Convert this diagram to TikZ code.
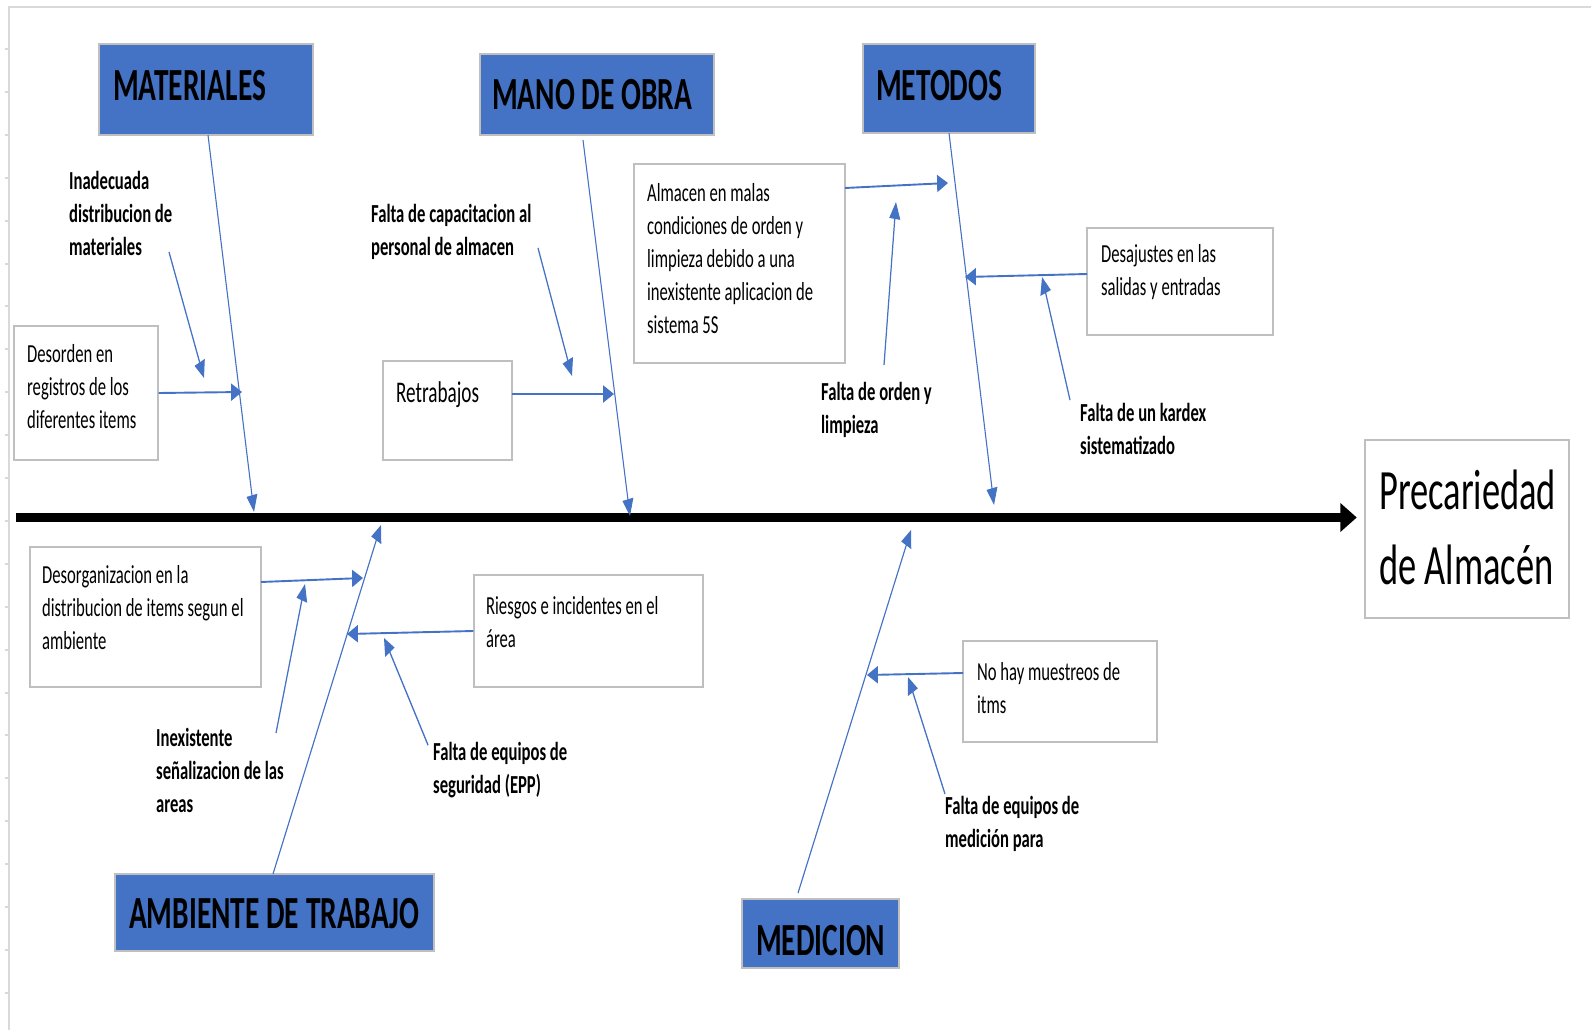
\documentclass[tikz,border=0pt]{standalone}
\usepackage{fontspec}
\setmainfont{Carlito}
\usetikzlibrary{arrows.meta,fit}
\definecolor{officeblue}{HTML}{4472C4}
\definecolor{gridgray}{HTML}{D9D9D9}
\definecolor{boxline}{HTML}{BFBFBF}
\tikzset{
  catbox/.style={draw=boxline, line width=2.4pt, fill=officeblue, inner sep=0pt},
  causebox/.style={draw=boxline, line width=2.2pt, fill=white, inner sep=0pt},
  cattext/.style={font=\bfseries\fontsize{46}{54}\selectfont, anchor=west, inner sep=0pt},
  boxtext/.style={font=\fontsize{26}{33}\selectfont, anchor=west, align=left, inner sep=0pt},
  labeltext/.style={font=\bfseries\fontsize{26}{33}\selectfont, anchor=west, align=left, inner sep=0pt},
  bone/.style={draw=officeblue, line width=1.7pt, -{Triangle[length=17pt,width=17pt]}},
  subarrow/.style={draw=officeblue, line width=1.9pt, -{Triangle[length=17pt,width=17pt]}},
  spine/.style={draw=black, line width=9pt, -{Triangle[length=26pt,width=27pt]}},
  gridline/.style={draw=gridgray, line width=2.2pt},
}
\begin{document}
\begin{tikzpicture}[x=1pt,y=-1pt]
\useasboundingbox (0,0) rectangle (1591,1030);
% the whole sheet is set in a horizontally condensed canvas
\begin{scope}[x=1.5625pt, y=-1pt, transform canvas={xscale=0.64}]
  % sheet edges and row marks
  \draw[gridline] (8,7) -- (1591,7);
  \draw[gridline, line width=2.6pt] (9,7) -- (9,1030);
  \foreach \k in {0,...,22}
    \draw[gridgray, line width=2pt] (5,{49+42.9*\k}) -- (9,{49+42.9*\k});

  % category boxes
  \node[catbox, fit={(99,44) (313,135)}] (matbox) {};
  \node[cattext] (mattxt) at (113,86) {MATERIALES};
  \node[catbox, fit={(480,54) (714,135)}] (mobox) {};
  \node[cattext] (motxt) at (492,95) {MANO DE OBRA};
  \node[catbox, fit={(863,44) (1035,133)}] (mebox) {};
  \node[cattext] (metxt) at (876,86) {METODOS};
  \node[catbox, fit={(115,874) (434,951)}] (ambox) {};
  \node[cattext] (amtxt) at (129,914) {AMBIENTE DE TRABAJO};
  \node[catbox, fit={(742,899) (899,968)}] (mdbox) {};
  \node[cattext] (mdtxt) at (756,941) {MEDICION};

  % cause boxes
  \node[causebox, fit={(14,326) (158,460)}] (desorden) {};
  \node[boxtext] (desordentxt) at (27,387) {Desorden en\\registros de los\\diferentes items};
  \node[causebox, fit={(383,361) (512,460)}] (retrab) {};
  \node[boxtext, font=\fontsize{30}{36}\selectfont] (retrabtxt) at (396,395) {Retrabajos};
  \node[causebox, fit={(634,164) (845,363)}] (almacen) {};
  \node[boxtext] (almacentxt) at (647,259) {Almacen en malas\\condiciones de orden y\\limpieza debido a una\\inexistente aplicacion de\\sistema 5S};
  \node[causebox, fit={(1087,228) (1273,335)}] (desajustes) {};
  \node[boxtext] (desajustestxt) at (1101,272) {Desajustes en las\\salidas y entradas};
  \node[causebox, fit={(30,547) (261,687)}] (desorg) {};
  \node[boxtext] (desorgtxt) at (42,608) {Desorganizacion en la\\distribucion de items segun el\\ambiente};
  \node[causebox, fit={(474,575) (703,687)}] (riesgos) {};
  \node[boxtext] (riesgostxt) at (486,622) {Riesgos e incidentes en el\\área};
  \node[causebox, fit={(963,641) (1157,742)}] (nohay) {};
  \node[boxtext] (nohaytxt) at (977,688) {No hay muestreos de\\itms};

  % effect box
  \node[causebox, fit={(1365,440) (1569,618)}] (result) {};
  \node[boxtext, font=\fontsize{57}{75}\selectfont] (resulttxt) at (1379,527) {Precariedad\\de Almacén};

  % free cause labels
  \node[labeltext] (inadecuada) at (69,213) {Inadecuada\\distribucion de\\materiales};
  \node[labeltext] (capacitacion) at (371,232) {Falta de capacitacion al\\personal de almacen};
  \node[labeltext] (orden) at (821,410) {Falta de orden y\\limpieza};
  \node[labeltext] (kardex) at (1080,429) {Falta de un kardex\\sistematizado};
  \node[labeltext] (senal) at (156,770) {Inexistente\\señalizacion de las\\areas};
  \node[labeltext] (epp) at (433,770) {Falta de equipos de\\seguridad (EPP)};
  \node[labeltext] (medpara) at (945,824) {Falta de equipos de\\medición para};

  % spine
  \coordinate (spineL) at (16,517.5);
  \coordinate (spineR) at (1357,517.5);
  \draw[spine] (spineL) -- (spineR);

  % main bones
  \coordinate (matS) at (208,135);  \coordinate (matT) at (254,512);
  \coordinate (moS) at (583,140);   \coordinate (moT) at (630,516);
  \coordinate (meS) at (949,133);   \coordinate (meT) at (994,505);
  \coordinate (amS) at (273,874);   \coordinate (amT) at (381,525);
  \coordinate (mdS) at (798,893);   \coordinate (mdT) at (911,530);
  \draw[bone] (matS) -- (matT);
  \draw[bone] (moS) -- (moT);
  \draw[bone] (meS) -- (meT);
  \draw[bone] (amS) -- (amT);
  \draw[bone] (mdS) -- (mdT);

  % secondary causes
  \coordinate (desordenT) at (242,392);
  \coordinate (inaS) at (169,252);   \coordinate (inaT) at (204,378);
  \coordinate (retS) at (512,394);   \coordinate (retT) at (614,394);
  \coordinate (capS) at (538,248);   \coordinate (capT) at (572,376);
  \coordinate (almS) at (845,188);   \coordinate (almT) at (948,183);
  \coordinate (ordS) at (884,365);   \coordinate (ordT) at (896,202);
  \coordinate (desS) at (1087,274);  \coordinate (desT) at (965,277);
  \coordinate (karS) at (1070,400);  \coordinate (karT) at (1042,277);
  \coordinate (dorgS) at (261,582);  \coordinate (dorgT) at (363,578);
  \coordinate (inxS) at (276,733);   \coordinate (inxT) at (305,584);
  \coordinate (rieT) at (347,634);
  \coordinate (segS) at (428,745);   \coordinate (segT) at (384,638);
  \coordinate (nohS) at (963,673);   \coordinate (nohT) at (867,675);
  \coordinate (medS) at (945,794);   \coordinate (medT) at (908,677);

  \draw[subarrow] (desorden.east) -- (desordenT);
  \draw[subarrow] (inaS) -- (inaT);
  \draw[subarrow] (retS) -- (retT);
  \draw[subarrow] (capS) -- (capT);
  \draw[subarrow] (almS) -- (almT);
  \draw[subarrow] (ordS) -- (ordT);
  \draw[subarrow] (desS) -- (desT);
  \draw[subarrow] (karS) -- (karT);
  \draw[subarrow] (dorgS) -- (dorgT);
  \draw[subarrow] (inxS) -- (inxT);
  \draw[subarrow] (riesgos.west) -- (rieT);
  \draw[subarrow] (segS) -- (segT);
  \draw[subarrow] (nohS) -- (nohT);
  \draw[subarrow] (medS) -- (medT);
\end{scope}
\end{tikzpicture}
\end{document}
